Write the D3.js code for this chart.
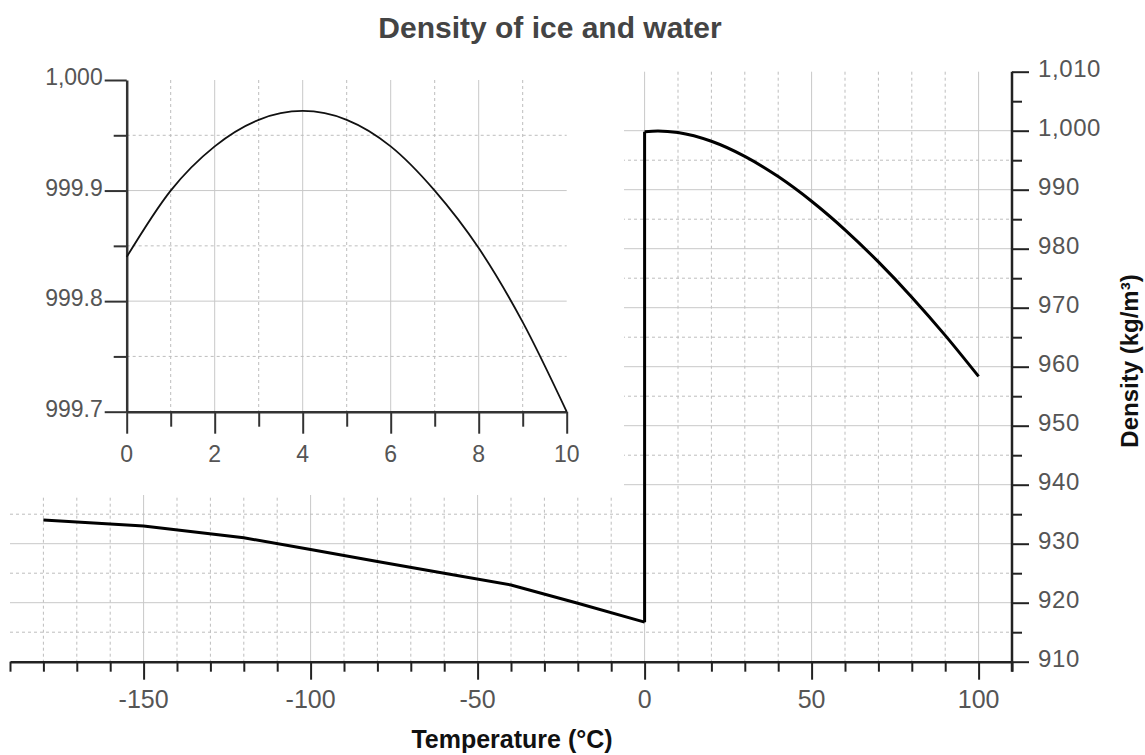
<!DOCTYPE html>
<html>
<head>
<meta charset="utf-8">
<script src="https://cdn.jsdelivr.net/npm/d3@7"></script>
<style>
  body { margin: 0; background: #fff; }
  text { font-family: "Liberation Sans", Arial, sans-serif; }
</style>
</head>
<body>
<script>
// density of ice and water, main chart + inset for 0..10 C

var iceTemps = [-180, -150, -120, -100, -80, -60, -40, -20, 0];
var iceDensity = [934.0, 933.0, 931.0, 929.0, 927.0, 925.0, 923.0, 919.9, 916.7];

var waterTemps = [0, 4, 10, 20, 30, 40, 50, 60, 70, 80, 90, 100];
var waterDensity = [999.84, 999.97, 999.70, 998.21, 995.65, 992.22, 988.04, 983.20, 977.76, 971.79, 965.31, 958.35];

var insetTemps = [0, 1, 2, 3, 4, 5, 6, 7, 8, 9, 10];
var insetDensity = [999.84, 999.90, 999.94, 999.964, 999.972, 999.964, 999.94, 999.90, 999.848, 999.781, 999.70];

var xTickLabels = [-150, -100, -50, 0, 50, 100];
var yTickLabels = [910, 920, 930, 940, 950, 960, 970, 980, 990, 1000, 1010];
var insetXLabels = [0, 2, 4, 6, 8, 10];
var insetYLabels = [999.7, 999.8, 999.9, 1000];

var width = 1145;
var height = 755;

var svg = d3.select("body").append("svg")
  .attr("width", width)
  .attr("height", height);

var x = d3.scaleLinear().domain([-190, 110]).range([10, 1012]);
var y = d3.scaleLinear().domain([910, 1010]).range([661.7, 71.7]);

// main grid
var grid = svg.append("g");
grid.selectAll("line.v").data(d3.range(-180, 101, 10)).enter().append("line")
  .attr("x1", function(d){ return x(d); }).attr("x2", function(d){ return x(d); })
  .attr("y1", y(1010)).attr("y2", y(910))
  .attr("stroke", function(d){ return d % 50 === 0 ? "#c8c8c8" : "#bdbdbd"; })
  .attr("stroke-dasharray", function(d){ return d % 50 === 0 ? null : "3,3"; });
grid.selectAll("line.h").data(d3.range(915, 1001, 5)).enter().append("line")
  .attr("x1", x(-190)).attr("x2", x(110))
  .attr("y1", function(d){ return y(d); }).attr("y2", function(d){ return y(d); })
  .attr("stroke", function(d){ return d % 10 === 0 ? "#c8c8c8" : "#bdbdbd"; })
  .attr("stroke-dasharray", function(d){ return d % 10 === 0 ? null : "3,3"; });

// the inset sits on a white patch
svg.append("rect").attr("x", 0).attr("y", 0).attr("width", 624).attr("height", 495).attr("fill", "#fff");

// main axes
var xAxis = d3.axisBottom(x).tickValues(d3.range(-190, 111, 10))
  .tickSize(0).tickFormat("");
var gx = svg.append("g").attr("transform", "translate(0," + y(910) + ")").call(xAxis);
gx.select(".domain").attr("stroke", "#222").attr("stroke-width", 2.5);
gx.selectAll(".tick line")
  .attr("y2", function(d){ return d % 50 === 0 ? 18 : 10; })
  .attr("stroke", "#222").attr("stroke-width", 2);
gx.selectAll("text.lab").data(xTickLabels).enter().append("text")
  .attr("x", function(d){ return x(d); }).attr("y", 46)
  .attr("text-anchor", "middle").attr("font-size", 25).attr("fill", "#555")
  .text(function(d){ return String(d); });

var yAxis = d3.axisRight(y).tickValues(d3.range(910, 1011, 5))
  .tickSize(0).tickFormat("");
var gy = svg.append("g").attr("transform", "translate(" + x(110) + ",0)").call(yAxis);
gy.select(".domain").remove();
gy.append("line").attr("y1", y(1010)).attr("y2", y(910) + 10)
  .attr("stroke", "#222").attr("stroke-width", 2.5);
gy.selectAll(".tick line")
  .attr("x2", function(d){ return d % 10 === 0 ? 17 : 10; })
  .attr("stroke", "#222").attr("stroke-width", 2);
gy.selectAll("text.lab").data(yTickLabels).enter().append("text")
  .attr("x", 26).attr("y", function(d){ return y(d) + 5; })
  .attr("font-size", 24).attr("fill", "#555").attr("letter-spacing", 0.6)
  .text(d3.format(","));

// ice, the jump at 0, and water
var line = d3.line()
  .x(function(d){ return x(d[0]); })
  .y(function(d){ return y(d[1]); });
var icePts = iceTemps.map(function(t, i){ return [t, iceDensity[i]]; });
var waterPts = waterTemps.map(function(t, i){ return [t, waterDensity[i]]; });

svg.append("path").attr("d", line(icePts))
  .attr("fill", "none").attr("stroke", "#000").attr("stroke-width", 3);
svg.append("path")
  .attr("d", line([[0, iceDensity[iceDensity.length - 1]], [0, waterDensity[0]]]))
  .attr("fill", "none").attr("stroke", "#000").attr("stroke-width", 3);
svg.append("path").attr("d", line.curve(d3.curveMonotoneX)(waterPts))
  .attr("fill", "none").attr("stroke", "#000").attr("stroke-width", 3);

// inset
var ix = d3.scaleLinear().domain([0, 10]).range([126.7, 566.7]);
var iy = d3.scaleLinear().domain([999.7, 1000]).range([411.7, 80]);
var inset = svg.append("g");

inset.selectAll("line.v").data(d3.range(1, 10)).enter().append("line")
  .attr("x1", function(d){ return ix(d); }).attr("x2", function(d){ return ix(d); })
  .attr("y1", iy(1000)).attr("y2", iy(999.7))
  .attr("stroke", function(d){ return d % 2 === 0 ? "#c8c8c8" : "#bdbdbd"; })
  .attr("stroke-dasharray", function(d){ return d % 2 === 0 ? null : "3,3"; });
inset.selectAll("line.h").data([999.75, 999.8, 999.85, 999.9, 999.95]).enter().append("line")
  .attr("x1", ix(0)).attr("x2", ix(10))
  .attr("y1", function(d){ return iy(d); }).attr("y2", function(d){ return iy(d); })
  .attr("stroke", function(d, i){ return i % 2 === 1 ? "#c8c8c8" : "#bdbdbd"; })
  .attr("stroke-dasharray", function(d, i){ return i % 2 === 1 ? null : "3,3"; });

var ixAxis = d3.axisBottom(ix).tickValues(d3.range(0, 11, 1)).tickSize(0).tickFormat("");
var gix = inset.append("g").attr("transform", "translate(0," + iy(999.7) + ")").call(ixAxis);
gix.select(".domain").attr("stroke", "#333").attr("stroke-width", 2.5);
gix.selectAll(".tick line")
  .attr("y2", function(d){ return d % 2 === 0 ? 22 : 15; })
  .attr("stroke", "#333").attr("stroke-width", 2);
gix.selectAll("text.lab").data(insetXLabels).enter().append("text")
  .attr("x", function(d){ return ix(d); }).attr("y", 50)
  .attr("text-anchor", "middle").attr("font-size", 23).attr("fill", "#555")
  .text(function(d){ return d; });

var iyAxis = d3.axisLeft(iy).tickValues(d3.range(0, 7).map(function(i){ return 999.7 + i * 0.05; }))
  .tickSize(0).tickFormat("");
var giy = inset.append("g").attr("transform", "translate(" + ix(0) + ",0)").call(iyAxis);
giy.select(".domain").attr("stroke", "#333").attr("stroke-width", 2.5);
giy.selectAll(".tick line")
  .attr("x2", function(d, i){ return i % 2 === 0 ? -22 : -13; })
  .attr("stroke", "#333").attr("stroke-width", 2);
giy.selectAll("text.lab").data(insetYLabels).enter().append("text")
  .attr("x", -24).attr("y", function(d){ return iy(d) + 5; })
  .attr("text-anchor", "end").attr("font-size", 23).attr("fill", "#555")
  .text(function(d){ return d === 1000 ? "1,000" : d3.format(".1f")(d); });

inset.append("path")
  .attr("d", d3.line().x(function(d){ return ix(d[0]); }).y(function(d){ return iy(d[1]); })
    .curve(d3.curveMonotoneX)(insetTemps.map(function(t, i){ return [t, insetDensity[i]]; })))
  .attr("fill", "none").attr("stroke", "#111").attr("stroke-width", 1.8);

// titles
svg.append("text").attr("x", 550).attr("y", 38)
  .attr("text-anchor", "middle").attr("font-size", 30).attr("font-weight", "bold")
  .attr("fill", "#444").text("Density of ice and water");
svg.append("text").attr("x", 512).attr("y", 748)
  .attr("text-anchor", "middle").attr("font-size", 25).attr("font-weight", "bold")
  .attr("fill", "#111").text("Temperature (°C)");
svg.append("text").attr("transform", "translate(1138,361) rotate(-90)")
  .attr("text-anchor", "middle").attr("font-size", 24).attr("font-weight", "bold")
  .attr("fill", "#111").text("Density (kg/m³)");
</script>
</body>
</html>
